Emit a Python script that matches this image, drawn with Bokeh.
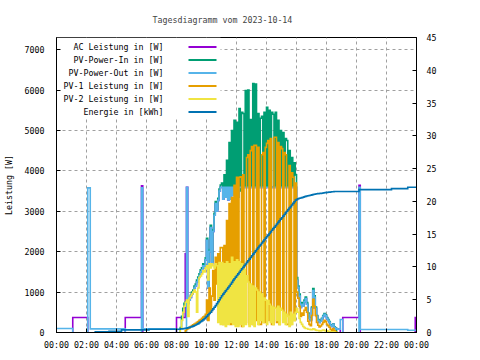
import numpy as np
from bokeh.plotting import figure
from bokeh.models import Range1d, LinearAxis, FixedTicker, Label
from bokeh.embed import file_html
from bokeh.resources import INLINE

# ---------------- texts / ticks ----------------
TITLE = "Tagesdiagramm vom 2023-10-14"
Y_LABEL = "Leistung [W]"
Y2_LABEL = "Energie [kWh]"
X_TICKS = [0, 2, 4, 6, 8, 10, 12, 14, 16, 18, 20, 22, 24]
X_TICK_LABELS = ["00:00", "02:00", "04:00", "06:00", "08:00", "10:00", "12:00",
                 "14:00", "16:00", "18:00", "20:00", "22:00", "00:00"]
Y_TICKS = [0, 1000, 2000, 3000, 4000, 5000, 6000, 7000]
Y2_TICKS = [0, 5, 10, 15, 20, 25, 30, 35, 40, 45]
Y_MAX = 7300
Y2_MAX = 45

SERIES_NAMES = ["AC Leistung in [W]", "PV-Power-In in [W]", "PV-Power-Out in [W]",
                "PV-1 Leistung in [W]", "PV-2 Leistung in [W]", "Energie in [kWh]"]
SERIES_COLORS = ["#9400D3", "#009E73", "#56B4E9", "#E69F00", "#F0E442", "#0072B2"]

# ---------------- data ----------------
# day grid: 5-minute samples from 08:15 to 18:55
DAY_START = "08:15"
DAY_STEP_MIN = 5
DAY_N = 129

# AC Leistung [W]
ac_am_t = ["00:00", "01:05", "02:05", "04:35", "05:40", "05:45", "08:00"]
ac_am_v = [0, 370, 0, 370, 3630, 0, 370]
ac_day = (
    [370, 370, 370, 370, 1950, 3590, 720, 800, 870] +
    [950, 1000, 1100, 1150, 1250, 1320, 1400, 1500, 1550, 1650, 1600, 1800] +
    [2280, 1100, 2000, 2600, 1700, 2500, 2900, 3190, 3000, 3270, 3500, 3590] +
    [3590, 3300, 3590, 3350, 3590, 3280, 3590, 3300, 3590, 3400, 3590, 3300] +
    [3590, 3350, 3590, 3590, 3590, 3590, 3590, 3590, 3590, 3590, 3590, 3590] +
    [3590, 3590, 3590, 3590, 3590, 3590, 3590, 3590, 3590, 3590, 3590, 3630] +
    [3590, 3590, 3590, 3590, 3590, 3590, 3630, 3590, 3590, 3590, 3590, 3590] +
    [3590, 3590, 3590, 3590, 3590, 3590, 3630, 3590, 3590, 3590, 3590, 3590] +
    [1290, 1110, 900, 620, 700, 650, 760, 840, 700, 450, 350, 300] +
    [600, 1040, 870, 600, 400, 300, 250, 280, 330, 400, 450, 420] +
    [350, 300, 250, 180, 150, 200, 130, 100, 90, 80, 80, 0])
ac_pm_t = ["19:00", "19:05", "20:10", "20:15", "23:55"]
ac_pm_v = [0, 370, 3640, 0, 370]

# PV-Power-In [W]
pin_am_t = ["08:10"]
pin_am_v = [0]
pin_day = (
    [120, 400, 600, 720, 760, 780, 770, 850, 920] +
    [1000, 1050, 1150, 1200, 1300, 1370, 1450, 1550, 1600, 1700, 1650, 1850] +
    [2330, 1150, 2050, 2650, 1750, 2550, 2950, 3240, 3050, 3320, 3550, 3650] +
    [3700, 3500, 3900, 3450, 4260, 3500, 4700, 3500, 5000, 3500, 5250, 3550] +
    [5200, 3550, 5540, 3500, 5450, 5420, 3600, 5990, 3600, 6000, 3600, 5270] +
    [3600, 6160, 3600, 6150, 3600, 5420, 3600, 5300, 5350, 3600, 5450, 3600] +
    [5570, 3600, 5500, 3600, 5450, 5400, 3600, 5450, 3600, 5250, 3600, 5000] +
    [3600, 4950, 3600, 4800, 4750, 3600, 4500, 3600, 4330, 3600, 4200, 3900] +
    [1360, 1150, 950, 660, 740, 690, 800, 880, 740, 480, 370, 320] +
    [630, 1090, 910, 630, 420, 320, 270, 300, 350, 420, 470, 440] +
    [370, 320, 270, 190, 160, 210, 140, 110, 0, 0, 0, 0])
pin_pm_t = ["19:00"]
pin_pm_v = [0]

# PV-Power-Out [W]
pout_am_t = ["00:00", "01:05", "02:05", "02:15", "04:35", "05:40", "05:45", "08:00"]
pout_am_v = [100, 0, 3580, 90, 0, 3580, 90, 0]
pout_day = (
    [0, 0, 0, 0, 0, 3590, 720, 800, 870] +
    [950, 1000, 1100, 1150, 1250, 1320, 1400, 1500, 1550, 1650, 1600, 1800] +
    [2280, 1100, 2000, 2600, 1700, 2500, 2900, 3190, 3000, 3270, 3500, 3590] +
    [3590, 3300, 3590, 3350, 3590, 3280, 3590, 3300, 3590, 3400, 3590, 3300] +
    [3590, 3350, 3590, 3590, 3590, 3590, 3590, 3590, 3590, 3590, 3590, 3590] +
    [3590, 3590, 3590, 3590, 3590, 3590, 3590, 3590, 3590, 3590, 3590, 3590] +
    [3590, 3590, 3590, 3590, 3590, 3590, 3590, 3590, 3590, 3590, 3590, 3590] +
    [3590, 3590, 3590, 3590, 3590, 3590, 3590, 3590, 3590, 3590, 3590, 3590] +
    [1290, 1110, 900, 620, 700, 650, 760, 840, 700, 450, 350, 300] +
    [600, 1040, 870, 600, 400, 300, 250, 280, 330, 400, 450, 420] +
    [350, 300, 250, 180, 150, 200, 130, 100, 90, 80, 80, 320])
pout_pm_t = ["19:00", "19:05", "20:10", "20:15", "23:25"]
pout_pm_v = [320, 0, 3590, 75, 55]

# PV-1 Leistung [W]
pv1_am_t = ["08:10"]
pv1_am_v = [0]
pv1_day = (
    [0, 0, 0, 0, 50, 80, 100, 120, 150] +
    [170, 190, 210, 230, 250, 270, 300, 320, 350, 380, 400, 450] +
    [800, 300, 1100, 500, 900, 1530, 800, 1860, 1200, 1950, 1500, 2100] +
    [2100, 200, 2150, 300, 2770, 250, 3190, 200, 3340, 300, 3640, 200] +
    [3840, 200, 3840, 3850, 150, 3900, 250, 250, 4330, 4400, 200, 4500] +
    [4600, 200, 4630, 4630, 300, 4580, 200, 200, 4400, 4450, 250, 4580] +
    [4680, 4750, 300, 4800, 200, 200, 4830, 4830, 250, 4700, 200, 4600] +
    [4550, 300, 4450, 4400, 200, 200, 4130, 200, 3950, 3840, 300, 3700] +
    [1000, 850, 650, 400, 480, 430, 550, 620, 500, 280, 200, 170] +
    [420, 820, 650, 420, 250, 180, 140, 160, 200, 250, 300, 270] +
    [200, 170, 130, 80, 60, 100, 40, 20, 0, 0, 0, 0])
pv1_pm_t = ["19:00"]
pv1_pm_v = [0]

# PV-2 Leistung [W]
pv2_am_t = ["08:10"]
pv2_am_v = [0]
pv2_day = (
    [100, 300, 500, 650, 750, 800, 400, 850, 900] +
    [950, 1000, 1050, 1000, 500, 1100, 1360, 1400, 1450, 1530, 1500, 1600] +
    [1650, 1300, 1700, 1600, 1700, 1650, 1600, 1700, 1650, 250, 1730, 200] +
    [1730, 200, 1700, 150, 1750, 200, 1700, 250, 1860, 200, 1750, 150] +
    [1800, 150, 1750, 200, 1700, 150, 1550, 200, 1400, 1250, 150, 1200] +
    [200, 1150, 150, 1100, 1050, 200, 1000, 300, 950, 250, 850, 800] +
    [200, 790, 700, 250, 650, 200, 620, 600, 300, 650, 200, 600] +
    [550, 250, 500, 200, 450, 400, 150, 500, 200, 450, 300, 500] +
    [600, 500, 350, 250, 200, 150, 120, 100, 100, 80, 80, 70] +
    [70, 90, 80, 60, 50, 50, 40, 40, 50, 60, 50, 40] +
    [40, 30, 30, 20, 20, 20, 10, 0, 0, 0, 0, 0])
pv2_pm_t = ["19:00"]
pv2_pm_v = [0]

# Energie [kWh]
en_am_t = ["00:35", "02:35", "03:30", "04:20", "06:10"]
en_am_v = [0.0, 0.1, 0.2, 0.4, 0.5]
en_day = (
    [0.55, 0.56, 0.58, 0.6, 0.63, 0.67, 0.72, 0.78, 0.84] +
    [0.9, 0.98, 1.06, 1.15, 1.25, 1.36, 1.5, 1.63, 1.77, 1.92, 2.1, 2.3] +
    [2.5, 2.7, 2.9, 3.1, 3.35, 3.6, 3.85, 4.1, 4.4, 4.7, 5.0, 5.3] +
    [5.6, 5.85, 6.1, 6.35, 6.6, 6.85, 7.1, 7.35, 7.65, 7.95, 8.2, 8.45] +
    [8.7, 8.95, 9.2, 9.45, 9.7, 9.95, 10.2, 10.45, 10.7, 10.95, 11.2, 11.45] +
    [11.7, 11.95, 12.2, 12.45, 12.7, 12.95, 13.2, 13.4, 13.65, 13.9, 14.15, 14.4] +
    [14.6, 14.85, 15.1, 15.35, 15.6, 15.85, 16.05, 16.3, 16.55, 16.8, 17.05, 17.3] +
    [17.5, 17.75, 18.0, 18.25, 18.5, 18.75, 19.0, 19.2, 19.45, 19.7, 19.95, 20.2] +
    [20.3, 20.4, 20.47, 20.52, 20.58, 20.64, 20.7, 20.77, 20.83, 20.87, 20.9, 20.93] +
    [21.0, 21.05, 21.1, 21.13, 21.16, 21.18, 21.2, 21.22, 21.25, 21.28, 21.31, 21.34] +
    [21.37, 21.4, 21.42, 21.44, 21.46, 21.48, 21.5, 21.5, 21.5, 21.5, 21.5, 21.5])
en_pm_t = ["19:00", "20:10", "22:20", "23:25"]
en_pm_v = [21.5, 21.8, 21.95, 22.15]

DAY_END = 24.0


# ---------------- helpers ----------------
def hours(s):
    h, m = s.split(":")
    return int(h) + int(m) / 60.0


DAY_T = [hours(DAY_START) + i * DAY_STEP_MIN / 60.0 for i in range(DAY_N)]


def series(am_t, am_v, day_v, pm_t, pm_v):
    assert len(day_v) == DAY_N
    ts = [hours(t) for t in am_t] + DAY_T + [hours(t) for t in pm_t]
    vs = list(am_v) + list(day_v) + list(pm_v)
    return ts, vs


def step_xy(ts, vs, end=DAY_END):
    """Step (hold-after) path; stretches at exactly zero are not drawn."""
    xs, ys = [], []
    prev = None
    for i, (t0, v) in enumerate(zip(ts, vs)):
        t1 = ts[i + 1] if i + 1 < len(ts) else end
        if v == 0:
            if prev is not None and prev != 0:
                xs.append(t0); ys.append(0.0)
            xs.append(np.nan); ys.append(np.nan)
        else:
            if prev == 0:
                xs.append(t0); ys.append(0.0)
            xs += [t0, t1]
            ys += [v, v]
        prev = v
    return np.array(xs, float), np.array(ys, float)


FONT = "DejaVu Sans Mono"
FS = "8.3px"
FRAME_W, FRAME_H = 360, 295

p = figure(frame_width=FRAME_W, frame_height=FRAME_H, output_backend="svg",
           toolbar_location=None,
           x_range=Range1d(0, 24), y_range=Range1d(0, Y_MAX),
           min_border_left=50, min_border_right=54, min_border_top=37,
           min_border_bottom=20)
p.extra_y_ranges = {"energy": Range1d(0, Y2_MAX)}

p.title.text = TITLE
p.title.align = "left"
p.title.offset = 96
p.title.standoff = 25
p.title.text_font = FONT
p.title.text_font_size = FS
p.title.text_font_style = "normal"

p.background_fill_color = "white"
p.border_fill_color = "white"
p.outline_line_color = "black"
p.outline_line_width = 1
p.outline_line_alpha = 1

# axes
p.xaxis.ticker = FixedTicker(ticks=X_TICKS)
p.xaxis.major_label_overrides = {t: lab for t, lab in zip(X_TICKS, X_TICK_LABELS)}
p.yaxis.ticker = FixedTicker(ticks=Y_TICKS)
p.yaxis.axis_label = Y_LABEL

ax2 = LinearAxis(y_range_name="energy", ticker=FixedTicker(ticks=Y2_TICKS))
p.add_layout(ax2, "right")

for ax in [p.xaxis[0], p.yaxis[0], ax2]:
    ax.major_tick_in = 4
    ax.major_tick_out = 0
    ax.minor_tick_in = 0
    ax.minor_tick_out = 0
    ax.axis_line_color = "black"
    ax.major_tick_line_color = "black"
    ax.major_label_text_font = FONT
    ax.major_label_text_font_size = FS
    ax.major_label_text_color = "black"
    ax.axis_label_text_font = FONT
    ax.axis_label_text_font_size = FS
    ax.axis_label_text_font_style = "normal"
    ax.axis_label_text_color = "black"

p.xaxis.major_label_standoff = 7
p.yaxis.major_label_standoff = 12
p.yaxis.axis_label_standoff = 8
ax2.major_label_standoff = 10

for g in [p.xgrid[0], p.ygrid[0]]:
    g.grid_line_color = "#a0a0a0"
    g.grid_line_dash = "3 3"
    g.grid_line_width = 1


def px_x(px):
    return px / FRAME_W * 24


def px_y(px_from_top):
    return (FRAME_H - px_from_top) / FRAME_H * Y_MAX


# right axis title, reading bottom-to-top like the original
p.add_layout(Label(x=px_x(401), y=px_y(156), text=Y2_LABEL, angle=np.pi / 2,
                   text_align="center", text_baseline="middle",
                   text_font=FONT, text_font_size=FS, text_color="black"))

# opaque key box (hides grid behind the key)
KEY_W_PX, KEY_H_PX = 164, 81
p.quad(left=[0], right=[px_x(KEY_W_PX)], top=[Y_MAX], bottom=[px_y(KEY_H_PX)],
       fill_color="white", line_color=None)

# series
LW = 1.6
all_series = [
    series(ac_am_t, ac_am_v, ac_day, ac_pm_t, ac_pm_v),
    series(pin_am_t, pin_am_v, pin_day, pin_pm_t, pin_pm_v),
    series(pout_am_t, pout_am_v, pout_day, pout_pm_t, pout_pm_v),
    series(pv1_am_t, pv1_am_v, pv1_day, pv1_pm_t, pv1_pm_v),
    series(pv2_am_t, pv2_am_v, pv2_day, pv2_pm_t, pv2_pm_v),
    series(en_am_t, en_am_v, en_day, en_pm_t, en_pm_v),
]
for k, (ts, vs) in enumerate(all_series):
    xs, ys = step_xy(ts, vs)
    kw = {"y_range_name": "energy"} if k == 5 else {}
    p.line(xs, ys, line_color=SERIES_COLORS[k], line_width=LW,
           line_join="miter", **kw)

# legend (gnuplot style: text then sample line), placed in frame pixels
LEG_TEXT_RIGHT_PX = 107
LEG_LINE_X0_PX, LEG_LINE_X1_PX = 132, 160
LEG_TOP_PX, LEG_ROW_PX = 9.5, 13

for k, name in enumerate(SERIES_NAMES):
    yy = px_y(LEG_TOP_PX + k * LEG_ROW_PX)
    p.add_layout(Label(x=px_x(LEG_TEXT_RIGHT_PX), y=yy, text=name,
                       text_align="right", text_baseline="middle",
                       text_font=FONT, text_font_size=FS, text_color="black"))
    p.line([px_x(LEG_LINE_X0_PX), px_x(LEG_LINE_X1_PX)], [yy, yy],
           line_color=SERIES_COLORS[k], line_width=2)

open("out.html", "w").write(file_html(p, INLINE))
